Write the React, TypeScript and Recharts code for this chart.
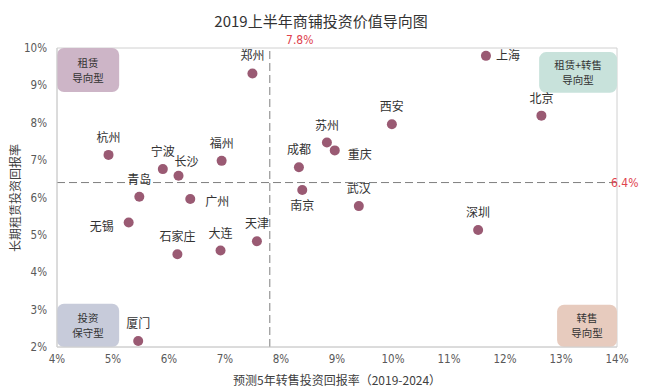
import React from 'react';
import { ScatterChart, Scatter, XAxis, YAxis, ReferenceLine, ReferenceArea, Label } from 'recharts';

// 城市 / 预测5年转售投资回报率 (%) / 长期租赁投资回报率 (%)
const CITIES = ['郑州', '上海', '北京', '西安', '杭州', '苏州', '重庆', '宁波', '福州', '成都', '长沙', '青岛', '广州', '南京', '武汉', '无锡', '深圳', '天津', '大连', '石家庄', '厦门'];
const RESALE_RETURN = [7.49, 11.66, 12.65, 9.98, 4.92, 8.82, 8.96, 5.89, 6.94, 8.32, 6.17, 5.47, 6.38, 8.38, 9.39, 5.28, 11.52, 7.57, 6.92, 6.15, 5.45];
const RENT_RETURN = [9.32, 9.79, 8.19, 7.96, 7.14, 7.47, 7.26, 6.76, 6.98, 6.81, 6.58, 6.02, 5.96, 6.2, 5.77, 5.33, 5.13, 4.83, 4.58, 4.48, 2.16];

const X_TICKS = [4, 5, 6, 7, 8, 9, 10, 11, 12, 13, 14];
const Y_TICKS = [2, 3, 4, 5, 6, 7, 8, 9, 10];

const X_AVG = 7.8;
const Y_AVG = 6.4;

const TITLE = '2019上半年商铺投资价值导向图';
const X_TITLE = '预测5年转售投资回报率（2019-2024）';
const Y_TITLE = '长期租赁投资回报率';

const QUADRANTS = [
  { lines: ['租赁', '导向型'], x1: 4, x2: 5.11, y1: 8.82, y2: 10, fill: '#cdb5c7' },
  { lines: ['租赁+转售', '导向型'], x1: 12.61, x2: 14, y1: 8.8, y2: 9.89, fill: '#c8e2db' },
  { lines: ['投资', '保守型'], x1: 4, x2: 5.11, y1: 2, y2: 3.16, fill: '#c7cbda' },
  { lines: ['转售', '导向型'], x1: 12.93, x2: 14, y1: 2, y2: 3.13, fill: '#e7cbbe' },
];

const data = CITIES.map((name, i) => ({ name, x: RESALE_RETURN[i], y: RENT_RETURN[i] }));

// where each city name sits relative to its dot
const LABEL_PLACE: Record<string, { anchor: 'start' | 'middle' | 'end'; dx: number; dy: number }> = {
  上海: { anchor: 'start', dx: 10, dy: 4 },
  重庆: { anchor: 'start', dx: 13, dy: 9 },
  广州: { anchor: 'start', dx: 15, dy: 7 },
  无锡: { anchor: 'end', dx: -15, dy: 8 },
  南京: { anchor: 'middle', dx: 0, dy: 20 },
  长沙: { anchor: 'middle', dx: 8, dy: -10 },
};

const CJK = '"Noto Sans CJK SC", "Noto Sans", sans-serif';
const NUM = '"Liberation Sans Narrow", "DejaVu Sans Condensed", "Liberation Sans", sans-serif';

const CityDot = (props: any) => {
  const { cx, cy, payload } = props;
  const place = LABEL_PLACE[payload.name] || { anchor: 'middle', dx: 0, dy: -13 };
  return (
    <g>
      <circle cx={cx} cy={cy} r={5} fill="#9a5a73" />
      <text x={cx + place.dx} y={cy + place.dy} textAnchor={place.anchor} fontSize={12} fill="#333" fontFamily={CJK}>
        {payload.name}
      </text>
    </g>
  );
};

const quadLabel = (lines: string[]) => (props: any) => {
  const { x, y, width, height } = props.viewBox;
  const cx = x + width / 2;
  const cy = y + height / 2;
  return (
    <g>
      {lines.map((t, i) => (
        <text key={t} x={cx} y={cy + (i - 0.5) * 15 + 4} textAnchor="middle" fontSize={10.5} fill="#333" fontFamily={CJK}>
          {t}
        </text>
      ))}
    </g>
  );
};

export default function App() {
  return (
    <div style={{ position: 'absolute', left: 0, top: 0, width: 647, height: 391, background: '#fff' }}>
      <div style={{ position: 'absolute', left: 0, top: 10, width: 642, textAlign: 'center', fontFamily: CJK, fontSize: 15, color: '#333' }}>
        {TITLE}
      </div>
      <div style={{ position: 'absolute', left: 233, top: 371, width: 200, textAlign: 'center', fontFamily: CJK, fontSize: 12, color: '#404040', whiteSpace: 'nowrap' }}>
        {X_TITLE}
      </div>
      <div
        style={{
          position: 'absolute', left: 14, top: 198, fontFamily: CJK, fontSize: 12, color: '#404040', whiteSpace: 'nowrap',
          transform: 'translate(-50%, -50%) rotate(-90deg)',
        }}
      >
        {Y_TITLE}
      </div>
      <ScatterChart width={647} height={391} margin={{ top: 48, right: 30, bottom: 0, left: 0 }} style={{ position: 'absolute', left: 0, top: 0 }}>
        <XAxis
          type="number"
          dataKey="x"
          domain={[4, 14]}
          ticks={X_TICKS}
          tickFormatter={(v) => `${v}%`}
          height={44}
          tickSize={0}
          tickMargin={8}
          axisLine={{ stroke: '#d0d0d0' }}
          tick={{ fontSize: 11.5, fill: '#595959', fontFamily: NUM }}
          interval={0}
        />
        <YAxis
          type="number"
          dataKey="y"
          domain={[2, 10]}
          ticks={Y_TICKS}
          tickFormatter={(v) => `${v}%`}
          width={57}
          tickSize={0}
          tickMargin={10}
          axisLine={{ stroke: '#d0d0d0' }}
          tick={{ fontSize: 11.5, fill: '#595959', fontFamily: NUM }}
          interval={0}
        />
        <ReferenceArea x1={4} x2={14} y1={2} y2={10} fill="none" stroke="#d0d0d0" />
        {QUADRANTS.map((q) => (
          <ReferenceArea key={q.lines.join('')} x1={q.x1} x2={q.x2} y1={q.y1} y2={q.y2} fill={q.fill} fillOpacity={1} radius={7}>
            <Label content={quadLabel(q.lines)} />
          </ReferenceArea>
        ))}
        <ReferenceLine x={X_AVG} stroke="#7f7f7f" strokeDasharray="8 4">
          <Label
            content={(p: any) => (
              <text x={p.viewBox.x + 30} y={p.viewBox.y - 4} textAnchor="middle" fontSize={12} fill="#e0424e" fontFamily={NUM}>
                {`${X_AVG}%`}
              </text>
            )}
          />
        </ReferenceLine>
        <ReferenceLine y={Y_AVG} stroke="#7f7f7f" strokeDasharray="8 4">
          <Label
            content={(p: any) => (
              <text x={p.viewBox.x + p.viewBox.width - 6} y={p.viewBox.y + 4} textAnchor="start" fontSize={12} fill="#e0424e" fontFamily={NUM}>
                {`${Y_AVG}%`}
              </text>
            )}
          />
        </ReferenceLine>
        <Scatter data={data} shape={CityDot} isAnimationActive={false} />
      </ScatterChart>
    </div>
  );
}
